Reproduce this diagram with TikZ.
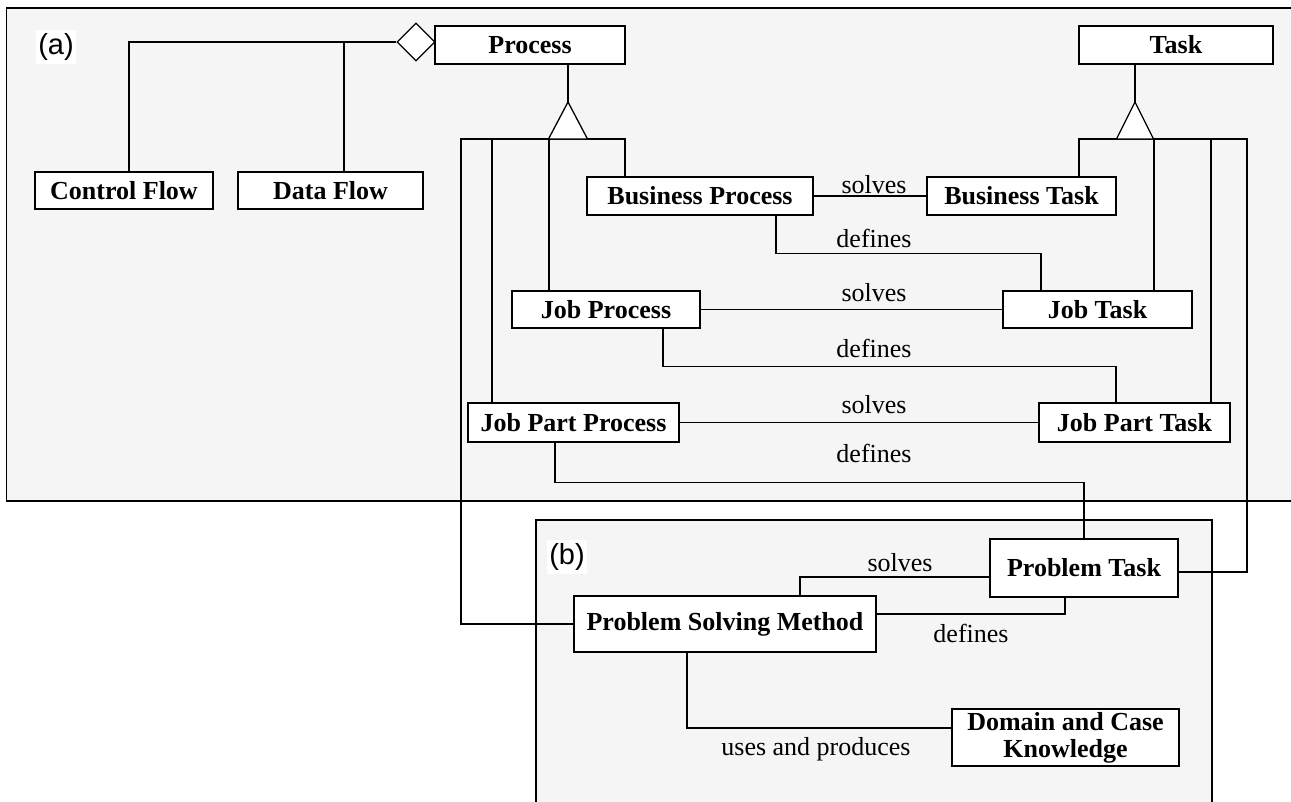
\documentclass[tikz,border=0pt]{standalone}
\usepackage{fontspec}
\setmainfont{Liberation Serif}
\newfontfamily\tagfont{Liberation Sans}
\usetikzlibrary{shapes.geometric}
\definecolor{panelgrey}{HTML}{F5F5F5}
\tikzset{
  box/.style={draw, fill=white, inner sep=0pt, minimum height=38pt,
    align=center, font=\bfseries\fontsize{26}{27}\selectfont},
  lbl/.style={anchor=base, inner sep=0pt, font=\fontsize{26}{27}\selectfont},
  tag/.style={fill=white, inner xsep=2pt, inner ysep=3pt,
    font=\tagfont\fontsize{29}{30}\selectfont},
  panel/.style={draw, fill=panelgrey},
}
\begin{document}
\begin{tikzpicture}[x=1pt, y=-1pt, line width=1.3pt]
  \useasboundingbox (0,0) rectangle (1291,801);
  \clip (0,0) rectangle (1291,801);
  % panels
  \draw[panel] (6.5,8) rectangle (1310,501);
  \draw[panel] (536,520) rectangle (1212,820);
  \node[tag] (taga) at (56,47) {(a)};
  \node[tag] (tagb) at (567,557) {(b)};
  % classes
  \node[box, minimum width=190pt] (process) at (530,45) {Process};
  \node[box, minimum width=194pt] (task) at (1176,45) {Task};
  \node[box, minimum width=178pt, minimum height=37pt] (cflow) at (124,190.5) {Control Flow};
  \node[box, minimum width=185pt, minimum height=37pt] (dflow) at (330.5,190.5) {Data Flow};
  \node[box, minimum width=226pt] (bproc) at (700,196) {Business Process};
  \node[box, minimum width=189pt] (btask) at (1021.5,196) {Business Task};
  \node[box, minimum width=188pt, minimum height=37pt] (jproc) at (606,309.5) {Job Process};
  \node[box, minimum width=189pt, minimum height=37pt] (jtask) at (1097.5,309.5) {Job Task};
  \node[box, minimum width=211pt, minimum height=39pt] (jpproc) at (573.5,422.5) {Job Part Process};
  \node[box, minimum width=191pt, minimum height=39pt] (jptask) at (1134.5,422.5) {Job Part Task};
  \node[box, minimum width=188pt, minimum height=58pt] (ptask) at (1084,568) {Problem Task};
  \node[box, minimum width=302pt, minimum height=56pt] (psm) at (725,624) {Problem Solving Method};
  \node[box, minimum width=227pt, minimum height=57pt] (dck) at (1065.5,737.5) {Domain and Case\\Knowledge};
  % aggregation
  \node[draw, diamond, fill=white, inner sep=0pt, minimum width=38pt,
    minimum height=38pt] (agg) at (416,42) {};
  \draw (agg.west) -| ([xshift=5pt]cflow.north);
  \draw ([xshift=13.5pt]dflow.north) |- (agg.west);
  % generalisation of process
  \coordinate (ptip) at (568,102);
  \coordinate (pbase) at (568,139);
  \draw (process.south -| ptip) -- (ptip);
  \draw ([xshift=-75pt]bproc.north) |- (pbase);
  \draw ([xshift=-57pt]jproc.north) |- (pbase);
  \draw ([xshift=-81.5pt]jpproc.north) |- (pbase);
  \draw (psm.west) -| ([xshift=-107pt]pbase) -- (pbase);
  \draw[fill=white] (ptip) -- ++(-19.5,37) -- ++(39,0) -- cycle;
  % generalisation of task
  \coordinate (ttip) at (1135,102);
  \coordinate (tbase) at (1135,139);
  \draw (task.south -| ttip) -- (ttip);
  \draw ([xshift=57.5pt]btask.north) |- (tbase);
  \draw ([xshift=56.5pt]jtask.north) |- (tbase);
  \draw ([xshift=76.5pt]jptask.north) |- (tbase);
  \draw ([yshift=-4pt]ptask.east) -| ([xshift=112pt]tbase) -- (tbase);
  \draw[fill=white] (ttip) -- ++(-18.5,37) -- ++(37,0) -- cycle;
  % solves / defines
  \draw (bproc) -- (btask);
  \draw ([xshift=76pt]bproc.south) -- ++(0,38) -| ([xshift=-56.5pt]jtask.north);
  \draw (jproc) -- (jtask);
  \draw ([xshift=57pt]jproc.south) -- ++(0,38) -| ([xshift=-18.5pt]jptask.north);
  \draw (jpproc) -- (jptask);
  \draw ([xshift=-18.5pt]jpproc.south) -- ++(0,40) -| (ptask.north);
  \draw ([xshift=75pt]psm.north) |- ([yshift=-9pt]ptask.west);
  \draw ([yshift=10pt]psm.east) -| ([xshift=-19pt]ptask.south);
  \draw ([xshift=-38pt]psm.south) |- ([yshift=9.5pt]dck.west);
  % labels
  \node[lbl] (s1) at (874,193) {solves};
  \node[lbl] (d1) at (874,247) {defines};
  \node[lbl] (s2) at (874,301) {solves};
  \node[lbl] (d2) at (874,357) {defines};
  \node[lbl] (s3) at (874,413) {solves};
  \node[lbl] (d3) at (874,462) {defines};
  \node[lbl] (s4) at (900,571) {solves};
  \node[lbl] (d4) at (971,642) {defines};
  \node[lbl] (u1) at (816,755) {uses and produces};
\end{tikzpicture}
\end{document}
